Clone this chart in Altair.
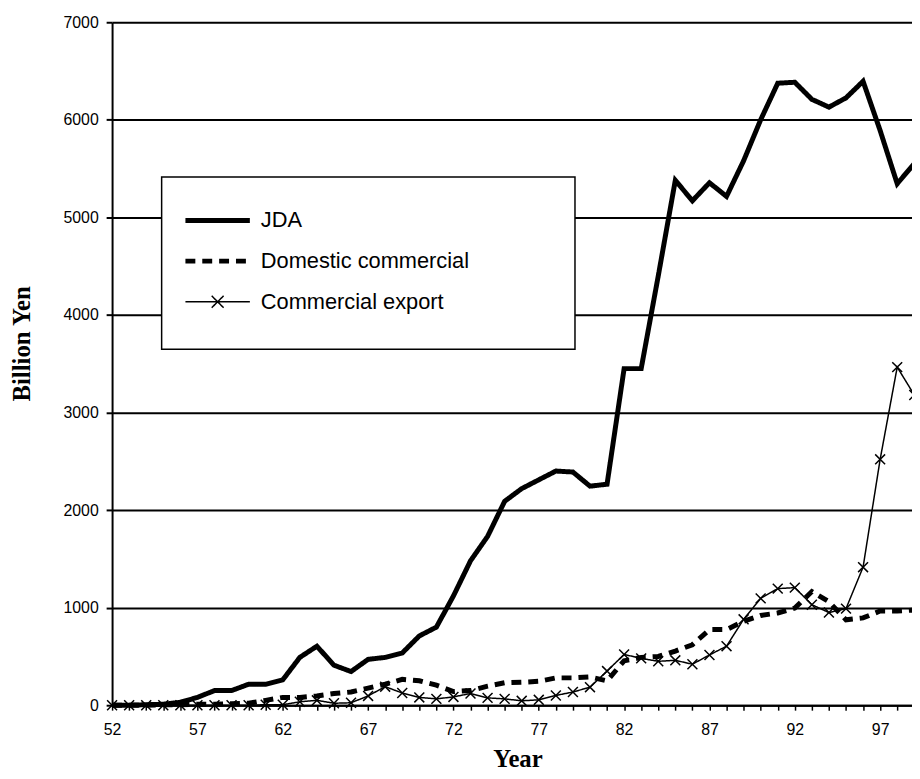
import altair as alt
import pandas as pd

years = list(range(52, 100))

jda = [0, 0, 5, 10, 30, 80, 150, 150, 215, 215,
       260, 490, 605, 410, 345, 470, 490, 535, 710, 800,
       1120, 1480, 1730, 2090, 2220, 2310, 2400, 2390, 2245, 2265,
       3450, 3450, 4400, 5380, 5170, 5355, 5215, 5580, 6000, 6375,
       6385, 6210, 6130, 6225, 6395, 5890, 5345, 5550]

domestic = [0, 0, 0, 5, 5, 10, 10, 15, 20, 50,
            80, 80, 95, 120, 135, 175, 215, 265, 250, 205,
            140, 150, 195, 230, 235, 245, 280, 280, 290, 250,
            455, 490, 500, 555, 620, 775, 775, 860, 920, 945,
            995, 1165, 1060, 875, 895, 965, 965, 975]

export = [0, 0, 0, 0, 0, 0, 0, 0, 0, 5,
          5, 35, 50, 20, 25, 95, 190, 125, 80, 65,
          85, 120, 75, 65, 45, 55, 100, 135, 185, 350,
          520, 480, 450, 460, 420, 515, 605, 880, 1095, 1195,
          1205, 1030, 950, 990, 1415, 2520, 3465, 3180]

series_names = ["JDA", "Domestic commercial", "Commercial export"]
y_ticks = [0, 1000, 2000, 3000, 4000, 5000, 6000, 7000]

rows = []
for name, vals in zip(series_names, [jda, domestic, export]):
    for yr, v in zip(years, vals):
        rows.append({"year": yr, "value": v, "series": name})
df = pd.DataFrame(rows)

SANS = "Liberation Sans"
SERIF = "Liberation Serif"

# point scale: 17.22 px per year, the last year falls just past the right edge
x_scale = alt.Scale(type="point", domain=years, range=[0, 809.3], padding=0)

x_axis = alt.Axis(
    labelExpr="(datum.value - 52) % 5 === 0 ? datum.label : ''",
    labelAngle=0, labelOverlap=False, labelFlush=False,
    labelFont=SANS, labelFontSize=16, labelColor="black", labelPadding=12,
    domainColor="black", domainWidth=2,
    tickColor="black", tickSize=5, tickWidth=1.5,
    grid=False,
    title="Year", titleFont=SERIF, titleFontSize=25, titleFontWeight="bold",
    titleColor="black", titleX=409, titleY=62, titleBaseline="alphabetic",
    titleAlign="center",
)
y_axis = alt.Axis(
    values=y_ticks, format="d",
    labelFont=SANS, labelFontSize=16, labelColor="black", labelPadding=8,
    domainColor="black", domainWidth=2,
    tickColor="black", tickSize=6, tickWidth=2,
    grid=True, gridColor="black", gridWidth=2, gridOpacity=1,
    title="Billion Yen", titleFont=SERIF, titleFontSize=25, titleFontWeight="bold",
    titleColor="black", titleAngle=270, titleX=-83, titleY=324,
    titleBaseline="alphabetic", titleAlign="center",
)

x_enc = alt.X("year:O", scale=x_scale, axis=x_axis)
y_enc = alt.Y("value:Q", scale=alt.Scale(domain=[0, 7000], nice=False), axis=y_axis)

# legend symbols: a 65px stroke (with an X for the export series); the trailing
# moveTo commands only widen the entry bounds so the legend box matches the original
line_sym = "M-1,0H4M26.4,0"
cross_sym = "M-1,0H4M1.04,-0.46L1.96,0.46M1.04,0.46L1.96,-0.46M26.4,1.4"

legend = alt.Legend(
    orient="none", legendX=50, legendY=156, direction="vertical",
    title="\u00a0", titleFontSize=1, titlePadding=6, titleColor="white",
    padding=26, strokeColor="black", fillColor="white", cornerRadius=0,
    symbolType={"expr": "datum.value === 'Commercial export' ? '" + cross_sym + "' : '" + line_sym + "'"},
    symbolStrokeWidth={"expr": "datum.value === 'Commercial export' ? 1.5 : 5"},
    symbolSize=676, symbolStrokeColor="black", symbolOffset=0,
    labelOffset=52, labelFont=SANS, labelFontSize=22, labelColor="black",
    labelLimit=600, rowPadding=19,
)

base = alt.Chart(df)

lines = base.mark_line(color="black", strokeJoin="miter").encode(
    x=x_enc,
    y=y_enc,
    strokeDash=alt.StrokeDash(
        "series:N",
        scale=alt.Scale(domain=series_names, range=[[1, 0], [10, 7], [1, 0]]),
        legend=legend,
    ),
    strokeWidth=alt.condition(alt.datum.series == "Commercial export", alt.value(1.5), alt.value(5)),
)

points = base.transform_filter(alt.datum.series == "Commercial export").mark_point(
    shape="M-1,-1L1,1M-1,1L1,-1", size=100, filled=False, color="black",
    strokeWidth=1.5, opacity=1,
).encode(x="year:O", y="value:Q")

chart = alt.layer(lines, points).properties(
    width=807, height=689,
    autosize=alt.AutoSizeParams(type="none"),
    padding={"left": 105, "top": 11, "right": 0, "bottom": 63},
    background="white",
).configure_view(stroke=None).configure_legend(strokeWidth=1.5)

chart.save("out.html", embed_options={"renderer": "svg", "actions": False})
